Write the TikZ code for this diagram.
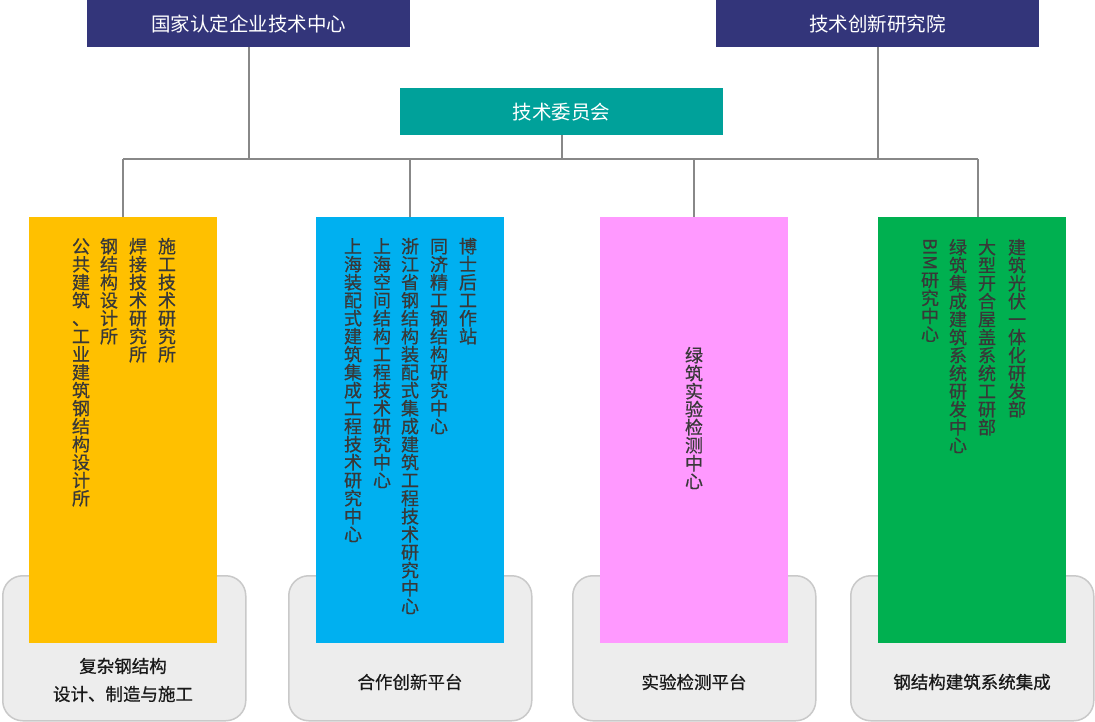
\documentclass[tikz,border=0pt]{standalone}
\usepackage{fontspec}
\usepackage{graphicx}
\newfontfamily\cjk{Noto Sans CJK SC}
\newfontfamily\cjkm[FakeBold=0.6]{Noto Sans CJK SC}
\definecolor{navy}{HTML}{33357A}
\definecolor{tealc}{HTML}{00A19A}
\definecolor{yel}{HTML}{FFC000}
\definecolor{blu}{HTML}{00B0F0}
\definecolor{pnk}{HTML}{FF99FF}
\definecolor{grn}{HTML}{00B050}
\definecolor{panelfill}{HTML}{EDEDED}
\definecolor{paneldraw}{HTML}{C9C9C9}
\definecolor{linec}{HTML}{888888}
\definecolor{vtext}{HTML}{383838}
\ExplSyntaxOn
\cs_new:Npn \my_vchar:n #1
  { \hbox_to_wd:nn { 1em } { \hss \vrule height 0.88em depth 0.12em width 0pt #1 \hss } }
\NewDocumentCommand \vcol { m }
  { \vbox:n { \offinterlineskip \tl_map_function:nN { #1 } \my_vchar:n } }
\ExplSyntaxOff
\newcommand\vcolBIM{\vbox{\offinterlineskip
  \hbox to 1em{\hss\rotatebox{-90}{BIM}\hss}\kern1pt
  \vcol{研究中心}}}
\begin{document}
\begin{tikzpicture}[x=1pt,y=-1pt,
  topbox/.style={fill=navy,text=white,anchor=north west,inner sep=0pt,
    minimum width=323pt,minimum height=47pt,font=\cjk\fontsize{19.5}{20}\selectfont},
  tealbox/.style={topbox,fill=tealc},
  colbox/.style={anchor=north west,inner sep=0pt,minimum width=188pt,minimum height=426pt},
  panel/.style={anchor=north west,inner sep=0pt,minimum width=243pt,minimum height=145pt,
    rounded corners=20pt,fill=panelfill,draw=paneldraw,line width=1.5pt},
  plabel/.style={align=center,inner sep=0pt,text=black!90,
    font=\cjkm\fontsize{17.5}{28}\selectfont},
  vc/.style={anchor=north,inner sep=0pt,text=vtext,font=\cjkm\fontsize{18}{18}\selectfont},
  conn/.style={draw=linec,line width=2pt}]
\path[use as bounding box,fill=white] (0,0) rectangle (1095,722);
% panels
\node[panel] (p1) at (2,575) {};
\node[panel] (p2) at (288,575) {};
\node[panel] (p3) at (572,575) {};
\node[panel] (p4) at (850,575) {};
% top boxes
\node[topbox] (nat) at (87,0) {国家认定企业技术中心};
\node[topbox] (inst) at (716,0) {技术创新研究院};
\node[tealbox] (comm) at (400,88) {技术委员会};
% coloured boxes
\node[colbox,fill=yel] (by) at (29,217) {};
\node[colbox,fill=blu] (bb) at (316,217) {};
\node[colbox,fill=pnk] (bp) at (600,217) {};
\node[colbox,fill=grn] (bg) at (878,217) {};
% connectors
\coordinate (jl) at (123,159);
\coordinate (jr) at (978,159);
\draw[conn] (jl) -- (jr);
\draw[conn] (nat.south) -- (nat.south |- jl);
\draw[conn] (comm.south) -- (comm.south |- jl);
\draw[conn] (inst.south) -- (inst.south |- jl);
\draw[conn] (jl) -- (jl |- by.north);
\draw[conn] (bb.north |- jl) -- (bb.north);
\draw[conn] (bp.north |- jl) -- (bp.north);
\draw[conn] (jr) -- (jr |- bg.north);
% vertical texts: yellow
\node[vc] (y1) at (167,237) {\vcol{施工技术研究所}};
\node[vc] (y2) at (138,237) {\vcol{焊接技术研究所}};
\node[vc] (y3) at (109,237) {\vcol{钢结构设计所}};
\node[vc] (y4) at (81,237) {\vcol{公共建筑、工业建筑钢结构设计所}};
% blue
\node[vc] (b1) at (468,237) {\vcol{博士后工作站}};
\node[vc] (b2) at (439,237) {\vcol{同济精工钢结构研究中心}};
\node[vc] (b3) at (410,237) {\vcol{浙江省钢结构装配式集成建筑工程技术研究中心}};
\node[vc] (b4) at (382,237) {\vcol{上海空间结构工程技术研究中心}};
\node[vc] (b5) at (353,237) {\vcol{上海装配式建筑集成工程技术研究中心}};
% pink
\node[vc] (k1) at (694,346) {\vcol{绿筑实验检测中心}};
% green
\node[vc] (g1) at (1017,238) {\vcol{建筑光伏一体化研发部}};
\node[vc] (g2) at (987,238) {\vcol{大型开合屋盖系统工研部}};
\node[vc] (g3) at (958,238) {\vcol{绿筑集成建筑系统研发中心}};
\node[vc] (g4) at (930,238) {\vcolBIM};
% panel labels
\node[plabel] (l1) at (123,680) {复杂钢结构\\设计、制造与施工};
\node[plabel] (l2) at (410,682) {合作创新平台};
\node[plabel] (l3) at (694,682) {实验检测平台};
\node[plabel] (l4) at (972,682) {钢结构建筑系统集成};
\end{tikzpicture}
\end{document}
